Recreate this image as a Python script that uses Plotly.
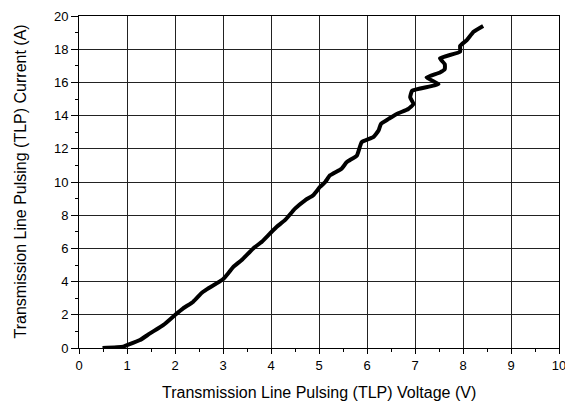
import plotly.graph_objects as go

voltage = [0.49, 0.92, 0.99, 1.27, 1.48, 1.76, 2.00, 2.17, 2.38, 2.56, 2.66, 3.00, 3.11, 3.22,
           3.39, 3.63, 3.81, 3.98, 4.12, 4.29, 4.50, 4.71, 4.88, 5.02, 5.13, 5.23, 5.47, 5.58,
           5.79, 5.89, 6.13, 6.24, 6.29, 6.45, 6.62, 6.86, 6.97, 6.90, 6.94, 7.49, 7.24, 7.52,
           7.62, 7.62, 7.52, 7.94, 7.94, 8.08, 8.22, 8.42]
current = [0.00, 0.08, 0.16, 0.48, 0.88, 1.39, 1.99, 2.39, 2.79, 3.33, 3.53, 4.14, 4.50, 4.90,
           5.30, 6.00, 6.40, 6.90, 7.30, 7.70, 8.40, 8.90, 9.20, 9.70, 10.00, 10.40, 10.80, 11.20,
           11.60, 12.40, 12.70, 13.10, 13.50, 13.80, 14.10, 14.40, 14.70, 15.10, 15.50, 15.90, 16.30, 16.60,
           16.80, 17.10, 17.45, 17.85, 18.20, 18.55, 19.05, 19.40]

x_ticks = list(range(0, 11))
y_ticks = list(range(0, 21, 2))
x_title = "Transmission Line Pulsing (TLP) Voltage (V)"
y_title = "Transmission Line Pulsing (TLP) Current (A)"

fig = go.Figure()
fig.add_trace(go.Scatter(x=voltage, y=current, mode="lines",
                         line=dict(color="black", width=4, shape="spline", smoothing=0.4),
                         showlegend=False, cliponaxis=False, hoverinfo="skip"))

font = "Liberation Sans, Arial, sans-serif"
fig.update_layout(
    width=565, height=403,
    margin=dict(l=79, r=6, t=16, b=55, autoexpand=False),
    paper_bgcolor="white", plot_bgcolor="white",
    font=dict(family=font, color="black"),
    annotations=[
        dict(text=x_title, xref="paper", yref="paper", x=0.5, y=0, xanchor="center", yanchor="middle",
             yshift=-44, showarrow=False, font=dict(size=16, family=font, color="black")),
        dict(text=y_title, xref="paper", yref="paper", x=0, y=0.5, xanchor="center", yanchor="middle",
             xshift=-59.5, textangle=-90, showarrow=False, font=dict(size=16, family=font, color="black")),
    ],
)
fig.update_xaxes(
    range=[0, 10], tickvals=x_ticks, ticktext=[str(v) for v in x_ticks],
    ticks="outside", ticklen=5, tickwidth=1, tickcolor="black",
    showline=True, linecolor="black", linewidth=1, mirror=True,
    showgrid=True, gridcolor="#222222", gridwidth=1,
    zeroline=False, automargin=False, ticklabeloverflow="allow",
    minor=dict(ticks="outside", ticklen=3, dtick=0.5, tickcolor="black", showgrid=False),
    tickfont=dict(size=13, family=font),
)
fig.update_yaxes(
    range=[0, 20], tickvals=y_ticks, ticktext=[str(v) for v in y_ticks],
    ticks="outside", ticklen=7, tickwidth=1, tickcolor="black",
    showline=True, linecolor="black", linewidth=1, mirror=True,
    showgrid=True, gridcolor="#222222", gridwidth=1,
    zeroline=False, automargin=False,
    minor=dict(ticks="outside", ticklen=3, dtick=1, tickcolor="black", showgrid=False),
    tickfont=dict(size=13, family=font),
)

fig.write_html("out.html", config={"displayModeBar": False},
               post_script="document.body.style.margin='0px';")
